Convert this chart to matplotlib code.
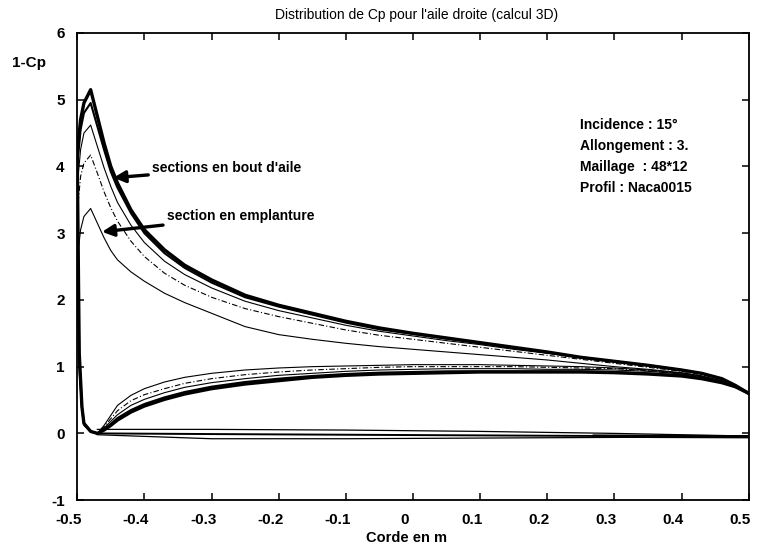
import matplotlib
matplotlib.use('Agg')
import matplotlib.pyplot as plt
from matplotlib.transforms import ScaledTranslation

FONT = 'Liberation Sans'
INK = 'black'

# abscisses (corde en m)
x_up = [-0.500, -0.495, -0.490, -0.480, -0.470, -0.460, -0.450, -0.440, -0.420, -0.400,
        -0.370, -0.340, -0.300, -0.250, -0.200, -0.150, -0.100, -0.050, 0.000, 0.050,
        0.100, 0.150, 0.200, 0.250, 0.300, 0.350, 0.400, 0.430, 0.460, 0.480, 0.500]
x_lo = [-0.500, -0.497, -0.493, -0.490, -0.480, -0.470, -0.460, -0.450, -0.440, -0.420,
        -0.400, -0.370, -0.340, -0.300, -0.250, -0.200, -0.150, -0.100, -0.050, 0.000,
        0.050, 0.100, 0.150, 0.200, 0.250, 0.300, 0.350, 0.400, 0.430, 0.460, 0.480, 0.500]

# 1-Cp extrados, une liste par section (bout d'aile -> emplanture)
up_a = [4.20, 4.70, 4.95, 5.15, 4.75, 4.35, 4.00, 3.75, 3.35, 3.05, 2.75, 2.52, 2.30, 2.07, 1.92, 1.80,
        1.68, 1.58, 1.50, 1.43, 1.36, 1.29, 1.22, 1.14, 1.08, 1.02, 0.95, 0.90, 0.82, 0.72, 0.60]
up_b = [4.00, 4.55, 4.80, 4.95, 4.60, 4.25, 3.92, 3.68, 3.30, 3.00, 2.70, 2.48, 2.26, 2.04, 1.90, 1.78,
        1.66, 1.56, 1.49, 1.42, 1.35, 1.28, 1.21, 1.14, 1.08, 1.02, 0.95, 0.90, 0.82, 0.72, 0.60]
up_c = [3.70, 4.25, 4.50, 4.62, 4.30, 3.98, 3.70, 3.46, 3.12, 2.86, 2.58, 2.38, 2.18, 1.98, 1.84, 1.73,
        1.62, 1.53, 1.46, 1.39, 1.33, 1.26, 1.20, 1.13, 1.07, 1.01, 0.94, 0.89, 0.81, 0.72, 0.60]
up_d = [3.30, 3.85, 4.05, 4.17, 3.90, 3.62, 3.38, 3.18, 2.88, 2.65, 2.40, 2.22, 2.04, 1.87, 1.75, 1.65,
        1.55, 1.47, 1.41, 1.35, 1.29, 1.23, 1.17, 1.11, 1.05, 0.99, 0.93, 0.88, 0.81, 0.72, 0.60]
up_e = [2.60, 3.05, 3.25, 3.37, 3.15, 2.93, 2.74, 2.60, 2.42, 2.28, 2.10, 1.96, 1.80, 1.60, 1.48, 1.41,
        1.35, 1.30, 1.26, 1.22, 1.18, 1.14, 1.10, 1.05, 1.00, 0.96, 0.91, 0.86, 0.79, 0.71, 0.60]

# 1-Cp intrados
lo_a = [4.20, 1.20, 0.40, 0.15, 0.03, 0.00, 0.05, 0.12, 0.20, 0.32, 0.41, 0.51, 0.59, 0.67, 0.74, 0.79,
        0.84, 0.87, 0.89, 0.90, 0.91, 0.92, 0.92, 0.92, 0.92, 0.91, 0.89, 0.86, 0.82, 0.76, 0.70, 0.60]
lo_b = [4.00, 1.15, 0.40, 0.15, 0.03, 0.00, 0.06, 0.14, 0.23, 0.35, 0.44, 0.54, 0.62, 0.70, 0.77, 0.82,
        0.86, 0.89, 0.91, 0.92, 0.93, 0.93, 0.93, 0.93, 0.93, 0.92, 0.90, 0.87, 0.83, 0.77, 0.70, 0.60]
lo_c = [3.70, 1.10, 0.38, 0.14, 0.03, 0.00, 0.08, 0.18, 0.28, 0.42, 0.51, 0.61, 0.69, 0.76, 0.82, 0.87,
        0.90, 0.93, 0.95, 0.96, 0.97, 0.97, 0.97, 0.96, 0.96, 0.95, 0.93, 0.89, 0.85, 0.78, 0.71, 0.60]
lo_d = [3.30, 1.00, 0.36, 0.13, 0.02, 0.00, 0.10, 0.22, 0.34, 0.49, 0.58, 0.67, 0.75, 0.82, 0.88, 0.92,
        0.95, 0.97, 0.99, 1.00, 1.00, 1.00, 1.00, 0.99, 0.98, 0.97, 0.94, 0.90, 0.86, 0.78, 0.71, 0.60]
lo_e = [2.60, 0.90, 0.33, 0.12, 0.02, 0.00, 0.12, 0.27, 0.42, 0.57, 0.67, 0.77, 0.84, 0.90, 0.95, 0.98,
        1.00, 1.01, 1.02, 1.03, 1.03, 1.03, 1.02, 1.01, 1.00, 0.98, 0.95, 0.90, 0.86, 0.78, 0.70, 0.60]

# traits proches de zero
x_zero = [-0.47, -0.30, -0.10, 0.10, 0.30, 0.50]
zero_1 = [0.06, 0.06, 0.05, 0.03, 0.00, -0.04]
zero_2 = [0.00, -0.01, -0.02, -0.03, -0.04, -0.05]
zero_3 = [-0.02, -0.08, -0.08, -0.07, -0.06, -0.05]
x_zero_thick = [0.27, 0.36, 0.50]
zero_thick = [-0.04, -0.045, -0.05]

x_ticks = [-0.5, -0.4, -0.3, -0.2, -0.1, 0, 0.1, 0.2, 0.3, 0.4, 0.5]
x_tick_labels = ['-0.5', '-0.4', '-0.3', '-0.2', '-0.1', '0', '0.1', '0.2', '0.3', '0.4', '0.5']
y_ticks = [-1, 0, 1, 2, 3, 4, 5, 6]
y_tick_labels = ['-1', '0', '1', '2', '3', '4', '5', '6']

info_lines = ['Incidence : 15\u00b0', 'Allongement : 3.', 'Maillage  : 48*12', 'Profil : Naca0015']


def main():
    plt.rcParams['font.family'] = [FONT, 'DejaVu Sans']
    fig = plt.figure(figsize=(7.57, 5.49), dpi=100)
    ax = fig.add_axes([0.102, 0.089, 0.887, 0.851])

    styles = [(up_a, lo_a, '-', 2.4), (up_b, lo_b, '-', 1.5), (up_c, lo_c, '-', 0.8),
              (up_d, lo_d, (0, (5, 2, 1, 2)), 0.8), (up_e, lo_e, '-', 0.8)]
    for up, lo, ls, lw in styles:
        ax.plot(x_up, up, color=INK, linestyle=ls, linewidth=lw)
        ax.plot(x_lo, lo, color=INK, linestyle=ls, linewidth=lw)

    ax.plot(x_zero, zero_1, color=INK, linewidth=0.9)
    ax.plot(x_zero, zero_2, color=INK, linewidth=1.4)
    ax.plot(x_zero, zero_3, color=INK, linewidth=0.9)
    ax.plot(x_zero_thick, zero_thick, color=INK, linewidth=2.4)

    ax.set_xlim(-0.5, 0.5)
    ax.set_ylim(-1, 6)
    ax.set_xticks(x_ticks)
    ax.set_xticklabels(x_tick_labels, fontweight='bold')
    ax.set_yticks(y_ticks)
    ax.set_yticklabels(y_tick_labels, fontweight='bold')
    ax.tick_params(direction='in', top=True, right=True, length=5, width=1.1,
                   labelsize=11, pad=9)
    # les etiquettes de l'axe x sont un peu decalees vers la gauche
    shift = ScaledTranslation(-6 / 72, 0, fig.dpi_scale_trans)
    for lab in ax.get_xticklabels():
        lab.set_transform(lab.get_transform() + shift)
    for sp in ax.spines.values():
        sp.set_linewidth(1.3)

    ax.set_xlabel('Corde en m', fontsize=10.5, fontweight='bold', va='top')
    ax.xaxis.set_label_coords(0.49, -0.066)
    ax.text(-0.072, 0.935, '1-Cp', transform=ax.transAxes, fontsize=11,
            fontweight='bold', ha='center', va='center')

    fig.text(0.55, 0.972, "Distribution de Cp pour l'aile droite (calcul 3D)",
             fontsize=10, ha='center', va='center')

    arrow = dict(arrowstyle='-|>,head_length=0.7,head_width=0.35', color=INK, lw=2.4,
                 shrinkA=1, shrinkB=0)
    ax.annotate("sections en bout d'aile", xy=(-0.446, 3.83), xytext=(-0.388, 3.97),
                fontsize=10, fontweight='bold', ha='left', va='center', arrowprops=arrow)
    ax.annotate('section en emplanture', xy=(-0.463, 3.02), xytext=(-0.366, 3.25),
                fontsize=10, fontweight='bold', ha='left', va='center', arrowprops=arrow)

    for i, line in enumerate(info_lines):
        ax.text(0.249, 4.62 - 0.315 * i, line, fontsize=10, fontweight='bold',
                ha='left', va='center')

    fig.savefig('out.png', dpi=100)


main()
